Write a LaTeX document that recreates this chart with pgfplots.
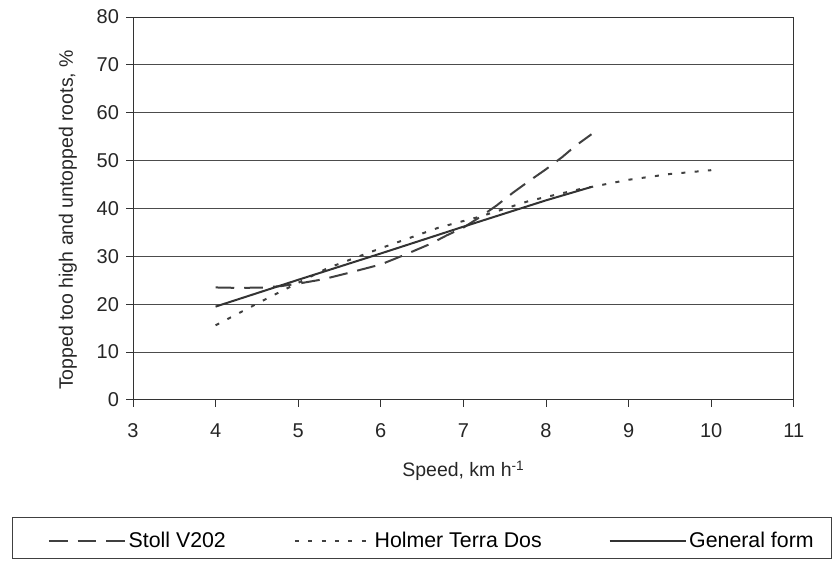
\documentclass[border=0pt]{standalone}
\usepackage{fontspec}
\setmainfont{Liberation Sans}
\usepackage{pgfplots}
\pgfplotsset{compat=1.18}

\begin{document}
\begin{tikzpicture}
\begin{axis}[
  scale only axis,
  width=495.75pt, height=287.25pt,
  xmin=3, xmax=11, ymin=0, ymax=80,
  xtick={3,...,11}, ytick={0,10,...,80},
  ymajorgrids,
  grid style={black!70, line width=0.7pt},
  axis line style={black!80, line width=0.7pt},
  tick style={black!80, line width=0.7pt},
  tick align=outside, major tick length=5pt,
  xtick pos=bottom, ytick pos=left,
  /pgf/number format/assume math mode=true,
  tick label style={font=\fontsize{15}{18}\selectfont, black!85},
  xticklabel shift=9.5pt, yticklabel shift=2pt,
  label style={font=\fontsize{14.6}{18}\selectfont, black!85},
  xlabel={Speed, km h\textsuperscript{-1}},
  ylabel={Topped too high and untopped roots, \%},
  xlabel shift=10pt, ylabel shift=8pt,
  ylabel style={at={(ticklabel cs:0.47)}},
  clip=false,
  legend columns=3,
  legend style={draw=none, fill=none, at={(-0.129,-0.368)}, anchor=west,
    inner sep=0pt, font=\fontsize{16}{19}\selectfont,
    /tikz/every even column/.append style={column sep=0pt}},
  legend cell align=left,
  legend image code/.code={\draw[#1] (0pt,0pt) -- (57pt,0pt);},
]
\addplot[black!75, line width=1.5pt, dash pattern=on 14pt off 7.5pt] coordinates {
  (4.0,23.5) (4.3,23.4) (4.6,23.5) (4.8,23.8) (5.0,24.3) (5.3,25.2) (5.6,26.5)
  (5.8,27.4) (6.0,28.3) (6.3,30.4) (6.6,32.6) (6.8,34.4) (7.0,36.0) (7.2,38.2)
  (7.4,40.6) (7.6,43.3) (7.8,45.8) (8.0,48.2) (8.2,50.8) (8.35,53.0) (8.55,55.5)
};
\addlegendentry{\makebox[122pt][l]{Stoll V202}}
\addplot[black!75, line width=1.5pt, dash pattern=on 3pt off 7pt] coordinates {
  (4.0,15.6) (4.3,18.3) (4.6,21.0) (4.9,23.6) (5.35,27.5) (6.0,31.7) (6.7,36.0)
  (7.2,38.3) (7.8,41.6) (8.4,44.0) (9.0,46.0) (9.5,47.2) (10.0,48.0)
};
\addlegendentry{\makebox[173.5pt][l]{Holmer Terra Dos}}
\addplot[black!80, line width=1.5pt] coordinates {
  (4.0,19.5) (5.0,25.1) (6.0,30.6) (7.0,36.2) (8.0,41.7) (8.55,44.5)
};
\addlegendentry{General form}
\end{axis}
\draw[black!75, line width=0.7pt] (-90.75pt,-88.5pt) rectangle (524pt,-119.25pt);
\path (-99.75pt,-121.5pt) rectangle (524.25pt,300pt);
\end{tikzpicture}
\end{document}
